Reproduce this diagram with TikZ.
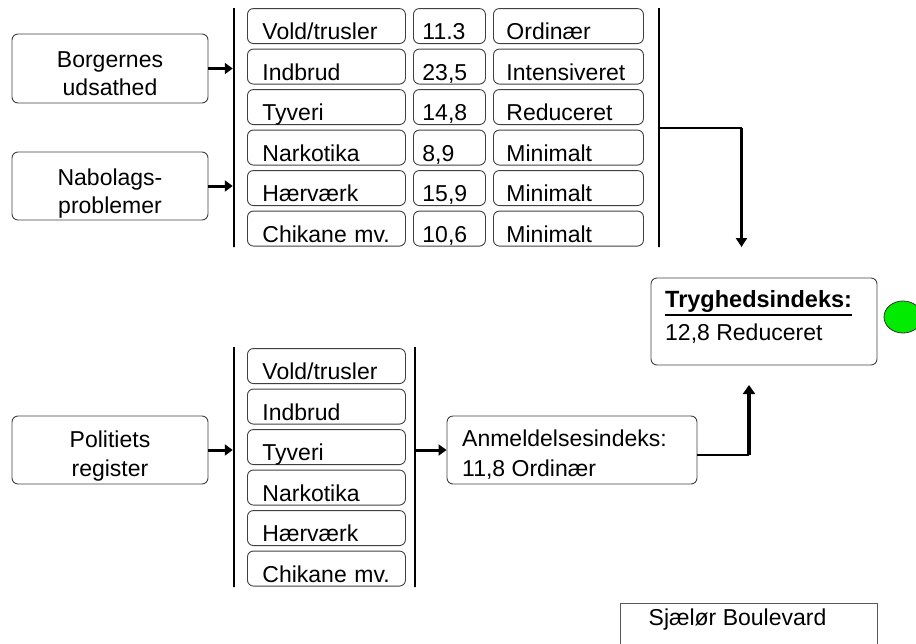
\documentclass[tikz,border=0pt]{standalone}
\usepackage{fontspec}
\setmainfont{Liberation Sans}
\usetikzlibrary{arrows.meta,shapes.geometric}
\begin{document}
\begin{tikzpicture}[x=1pt,y=-1pt,
  every node/.style={font=\fontsize{23}{28}\selectfont},
  box/.style={draw=black!75, line width=0.9pt, rounded corners=6pt, inner sep=0pt},
  item/.style={box, anchor=south west, minimum height=35pt, inner ysep=0pt, text height=31pt, text depth=4pt, align=left},
  c1/.style={item, inner xsep=15pt, text width=128pt},
  c2/.style={item, inner xsep=9pt, text width=54pt},
  c3/.style={item, inner xsep=13pt, text width=124pt},
  txt/.style={inner sep=0pt, anchor=base},
  txtl/.style={inner sep=0pt, anchor=base west},
  bar/.style={draw, line width=2.5pt, inner sep=0pt, minimum width=0pt},
  arr/.style={line width=3pt, -{Triangle[length=8pt,width=11pt]}},
  conn/.style={line width=2.5pt}
]
\useasboundingbox (0,0) rectangle (916,643);

% ---------- top group ----------
\node[box, minimum width=196pt, minimum height=69pt] (borg) at (110,68.5) {};
\node[txt] (borgt1) at (110,67) {Borgernes};
\node[txt] (borgt2) at (110,95) {udsathed};
\node[box, minimum width=196pt, minimum height=68pt] (nabo) at (110,186) {};
\node[txt] (nabot1) at (110,185) {Nabolags-};
\node[txt] (nabot2) at (110,213) {problemer};

\node[bar, minimum height=239pt] (bar1) at (234,127.5) {};
\node[bar, minimum height=239pt] (bar2) at (659,127.5) {};

\node[c1] (a1) at (247,44) {Vold/trusler};
\node[c1] (a2) at (247,84.5) {Indbrud};
\node[c1] (a3) at (247,125) {Tyveri};
\node[c1] (a4) at (247,165.5) {Narkotika};
\node[c1] (a5) at (247,206) {Hærværk};
\node[c1] (a6) at (247,246.5) {Chikane mv.};

\node[c2] (b1) at (413,44) {11.3};
\node[c2] (b2) at (413,84.5) {23,5};
\node[c2] (b3) at (413,125) {14,8};
\node[c2] (b4) at (413,165.5) {8,9};
\node[c2] (b5) at (413,206) {15,9};
\node[c2] (b6) at (413,246.5) {10,6};

\node[c3] (d1) at (493,44) {Ordinær};
\node[c3] (d2) at (493,84.5) {Intensiveret};
\node[c3] (d3) at (493,125) {Reduceret};
\node[c3] (d4) at (493,165.5) {Minimalt};
\node[c3] (d5) at (493,206) {Minimalt};
\node[c3] (d6) at (493,246.5) {Minimalt};

\draw[arr] (borg.east) -- (borg.east -| bar1.west);
\draw[arr] (nabo.east) -- (nabo.east -| bar1.west);

% ---------- result ----------
\node[box, minimum width=226pt, minimum height=87pt] (tryg) at (764,321.5) {};
\node[txtl, font=\fontsize{23.5}{28}\selectfont\bfseries] (trygt1) at (665,307) {Tryghedsindeks:};
\draw[line width=2.8pt] ([yshift=-8pt]trygt1.base west) -- ([yshift=-8pt]trygt1.base east);
\node[txtl] (trygt2) at (665,340) {12,8 Reduceret};
\node[draw=black!80, line width=0.8pt, fill={rgb,255:red,0;green,235;blue,0}, ellipse, minimum width=38pt, minimum height=32pt, inner sep=0pt] (lamp) at (903,317) {};

\coordinate (k1) at (741.5,128);
\coordinate (k1e) at (741.5,247);
\draw[conn] (bar2.east |- k1) -- (k1);
\draw[line width=2.5pt, -{Triangle[length=9pt,width=11pt]}] (k1) -- (k1e);

% ---------- bottom group ----------
\node[box, minimum width=196pt, minimum height=68pt] (poli) at (110,450) {};
\node[txt] (polit1) at (110,447) {Politiets};
\node[txt] (polit2) at (110,476) {register};

\node[bar, minimum height=240pt] (bar3) at (234,467) {};
\node[bar, minimum height=240pt] (bar4) at (415,467) {};

\node[c1] (e1) at (247,384) {Vold/trusler};
\node[c1] (e2) at (247,424.5) {Indbrud};
\node[c1] (e3) at (247,465) {Tyveri};
\node[c1] (e4) at (247,505.5) {Narkotika};
\node[c1] (e5) at (247,546) {Hærværk};
\node[c1] (e6) at (247,586.5) {Chikane mv.};

\node[box, minimum width=250pt, minimum height=68pt] (anm) at (572,450) {};
\node[txtl] (anmt1) at (462,446) {Anmeldelsesindeks:};
\node[txtl] (anmt2) at (462,476) {11,8 Ordinær};

\draw[arr] (poli.east) -- (poli.east -| bar3.west);
\draw[arr] (bar4.east |- anm.west) -- (anm.west);

\coordinate (k2) at (749,455);
\coordinate (k2e) at (749,385);
\draw[conn] (anm.east |- k2) -- (k2);
\draw[line width=3.5pt, -{Triangle[length=9pt,width=12pt]}] (k2) -- (k2e);

% ---------- footer ----------
\node[draw=black!65, line width=1pt, minimum width=257pt, minimum height=60pt, inner sep=0pt] (street) at (748.5,633) {};
\node[txt] (streett) at (737.5,625) {Sjælør Boulevard};
\end{tikzpicture}
\end{document}
